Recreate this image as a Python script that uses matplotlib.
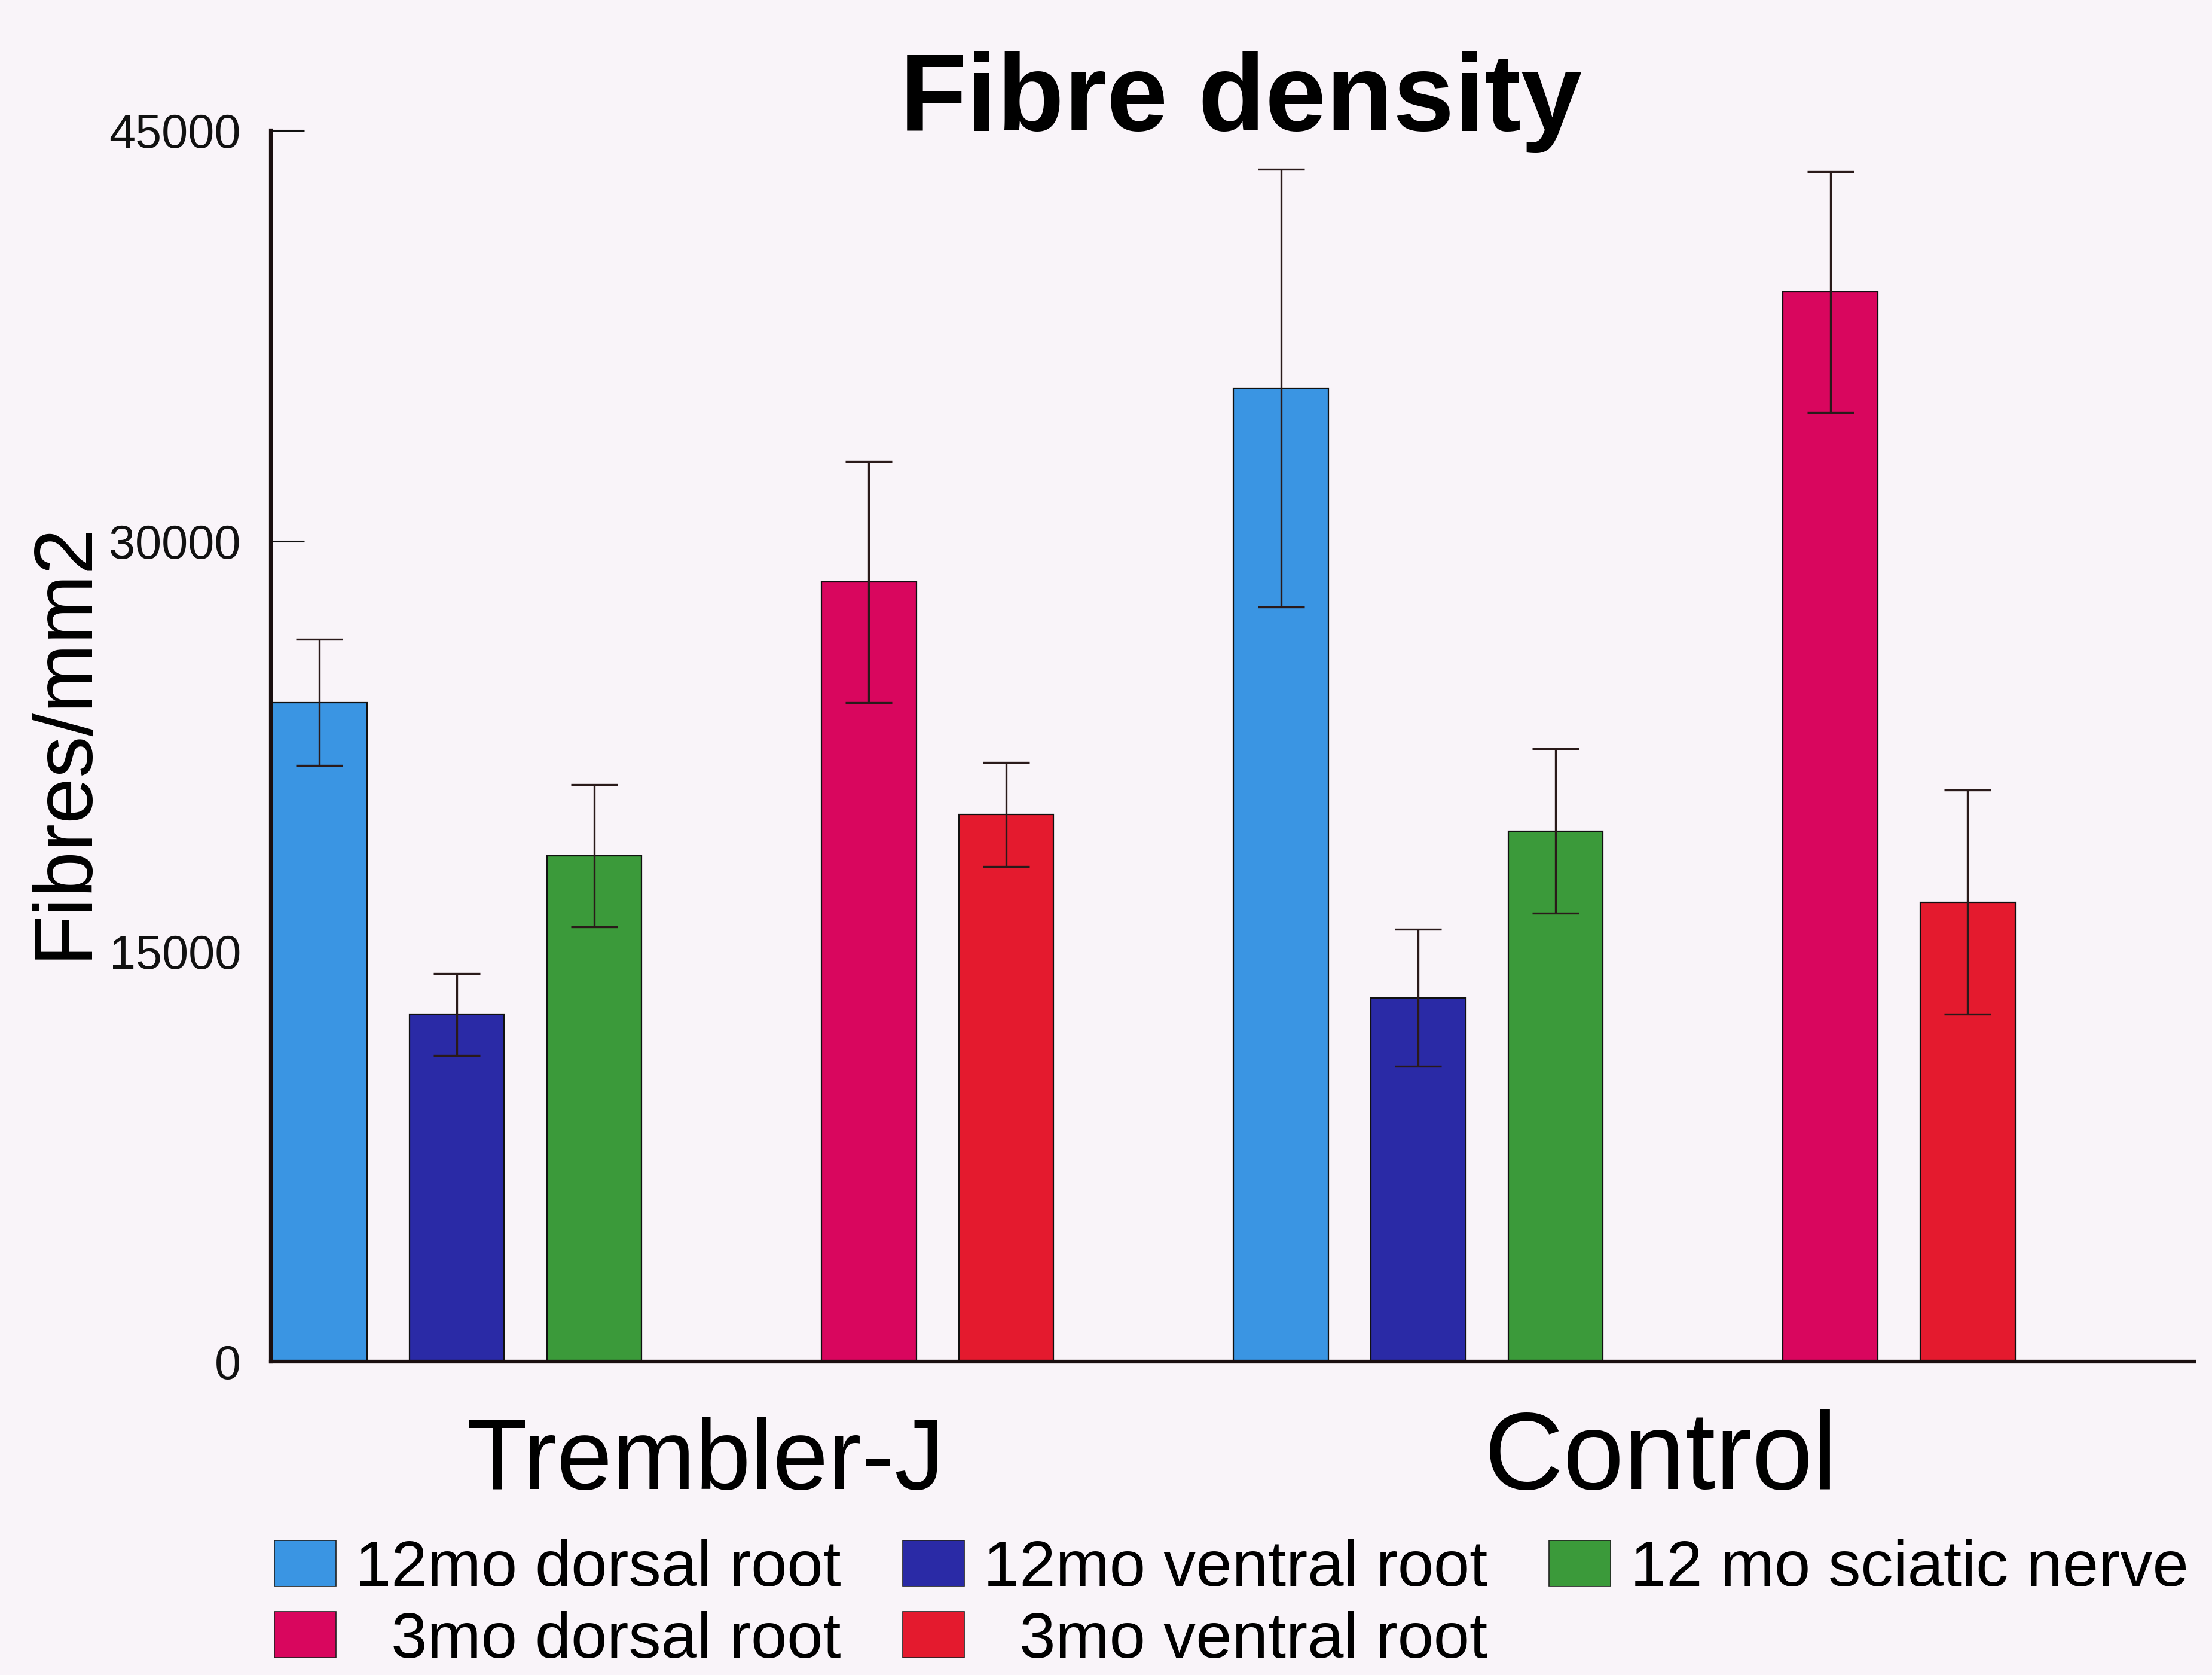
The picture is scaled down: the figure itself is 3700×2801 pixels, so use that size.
import matplotlib
matplotlib.use("Agg")
import matplotlib.pyplot as plt
from matplotlib.patches import Patch
import numpy as np

plt.rcParams['font.family'] = ['Liberation Sans', 'DejaVu Sans']

# data
groups = ['Trembler-J', 'Control']
series = ['12mo dorsal root', '12mo ventral root', '12 mo sciatic nerve',
          '  3mo dorsal root', '  3mo ventral root']
dorsal_12 = [24100, 35600]
ventral_12 = [12700, 13300]
sciatic_12 = [18500, 19400]
dorsal_3 = [28500, 39100]
ventral_3 = [20000, 16800]
err_dorsal_12 = [2300, 8000]
err_ventral_12 = [1500, 2500]
err_sciatic_12 = [2600, 3000]
err_dorsal_3 = [4400, 4400]
err_ventral_3 = [1900, 4100]
yticks = [0, 15000, 30000, 45000]

means = [dorsal_12, ventral_12, sciatic_12, dorsal_3, ventral_3]
errs = [err_dorsal_12, err_ventral_12, err_sciatic_12, err_dorsal_3, err_ventral_3]
colors = ['#3a95e3', '#2a2aa6', '#3b9a3a', '#d9065e', '#e41a2e']
slots = [0, 1, 2, 4, 5]   # empty slot between 12mo and 3mo bars
group_step = 7
width = 0.69

bg = '#f9f4f9'
fig = plt.figure(figsize=(37, 28.01), dpi=100, facecolor=bg)
ax = fig.add_axes([0.1224, 0.187, 0.8696, 0.735], facecolor=bg)

gx = np.arange(len(groups)) * group_step
for i in range(len(series)):
    ax.bar(gx + slots[i], means[i], width=width, color=colors[i],
           edgecolor='#111111', linewidth=1.6, zorder=2)
    ax.errorbar(gx + slots[i], means[i], yerr=errs[i], fmt='none',
                ecolor='#2a1a1a', elinewidth=2.4, capsize=28, capthick=2.4, zorder=3)

ax.set_xlim(-0.355, 13.65)
ax.set_ylim(0, 45000)
ax.set_yticks(yticks)
ax.set_yticklabels([str(v) for v in yticks], fontsize=57)
ax.set_xticks([])
ax.tick_params(axis='y', direction='in', length=40, width=2.2, pad=36, colors='#111111')
for s in ['top', 'right']:
    ax.spines[s].set_visible(False)
for s in ['left', 'bottom']:
    ax.spines[s].set_linewidth(4.5)
    ax.spines[s].set_color('#1a0f10')

fig.text(0.561, 0.922, 'Fibre density', fontsize=132, fontweight='bold',
         ha='center', va='baseline')
fig.text(0.029, 0.558, 'Fibres/mm2', fontsize=100, rotation=90,
         ha='center', va='center')
fig.text(0.319, 0.111, groups[0], fontsize=120, ha='center', va='baseline')
fig.text(0.751, 0.111, groups[1], fontsize=132, ha='center', va='baseline')

# legend filled row by row: reorder for column-major filling, blank slot at the end
handles = [Patch(facecolor=c, edgecolor='#222222', linewidth=1.2) for c in colors]
blank = Patch(facecolor='none', edgecolor='none')
order = [0, 3, 1, 4, 2]
h = [handles[k] for k in order] + [blank]
l = [series[k] for k in order] + ['']
fig.legend(h, l, loc='upper left', bbox_to_anchor=(0.124, 0.081), ncol=3,
           fontsize=78, frameon=False, handlelength=0.95, handleheight=0.72,
           handletextpad=0.3, columnspacing=0.95, labelspacing=0.18,
           borderaxespad=0, borderpad=0)

fig.savefig('out.png', dpi=100, facecolor=bg)
